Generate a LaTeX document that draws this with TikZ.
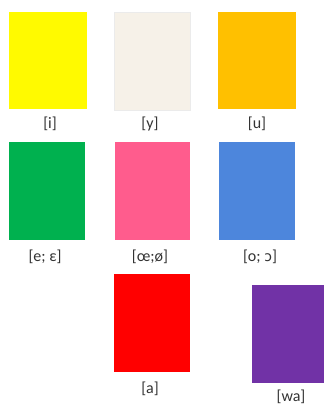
\documentclass[tikz,border=0pt]{standalone}
\usepackage{fontspec}
\setmainfont{Carlito}
\newfontfamily\ipafont{DejaVu Sans}
\definecolor{swyellow}{HTML}{FFFA00}
\definecolor{swcream}{HTML}{F6F1E8}
\definecolor{sworange}{HTML}{FFC000}
\definecolor{swgreen}{HTML}{00B14F}
\definecolor{swpink}{HTML}{FF5C8D}
\definecolor{swblue}{HTML}{4D86DC}
\definecolor{swred}{HTML}{FF0000}
\definecolor{swpurple}{HTML}{7132A6}

\begin{document}
\begin{tikzpicture}[x=1pt,y=1pt,
    swatch/.style={rectangle,inner sep=0pt,minimum width=76pt,minimum height=98pt},
    vowel/.style={font=\fontsize{16}{18}\selectfont,text=black!80,inner sep=0pt}]
    \useasboundingbox (0,0) rectangle (324,-405);
    % first row
    \node[swatch,fill=swyellow,minimum width=78pt,minimum height=97pt] (i) at (48,-60.5) {};
    \node[swatch,fill=swcream,draw=black!8] (y) at (152,-61) {};
    \node[swatch,fill=sworange,minimum width=78pt,minimum height=97pt] (u) at (257,-60.5) {};
    \node[vowel] (li) at (50,-124) {[i]};
    \node[vowel] (ly) at (150,-124) {[y]};
    \node[vowel] (lu) at (257,-124) {[u]};
    % second row
    \node[swatch,fill=swgreen] (e) at (47,-191) {};
    \node[swatch,fill=swpink,minimum width=75pt] (oe) at (152.5,-191) {};
    \node[swatch,fill=swblue] (o) at (257,-191) {};
    \node[vowel] (le) at (45,-257) {[e; ε]};
    \node[vowel] (loe) at (150,-257) {[œ;ø]};
    \node[vowel] (lo) at (260,-257) {[o; {\ipafont\fontsize{14}{16}\selectfont ɔ}]};
    % third row
    \node[swatch,fill=swred] (a) at (152,-323) {};
    \node[swatch,fill=swpurple,minimum width=74pt] (wa) at (289,-334) {};
    \node[vowel] (la) at (150,-389) {[a]};
    \node[vowel] (lwa) at (291,-397) {[wa]};
  \end{tikzpicture}
\end{document}
